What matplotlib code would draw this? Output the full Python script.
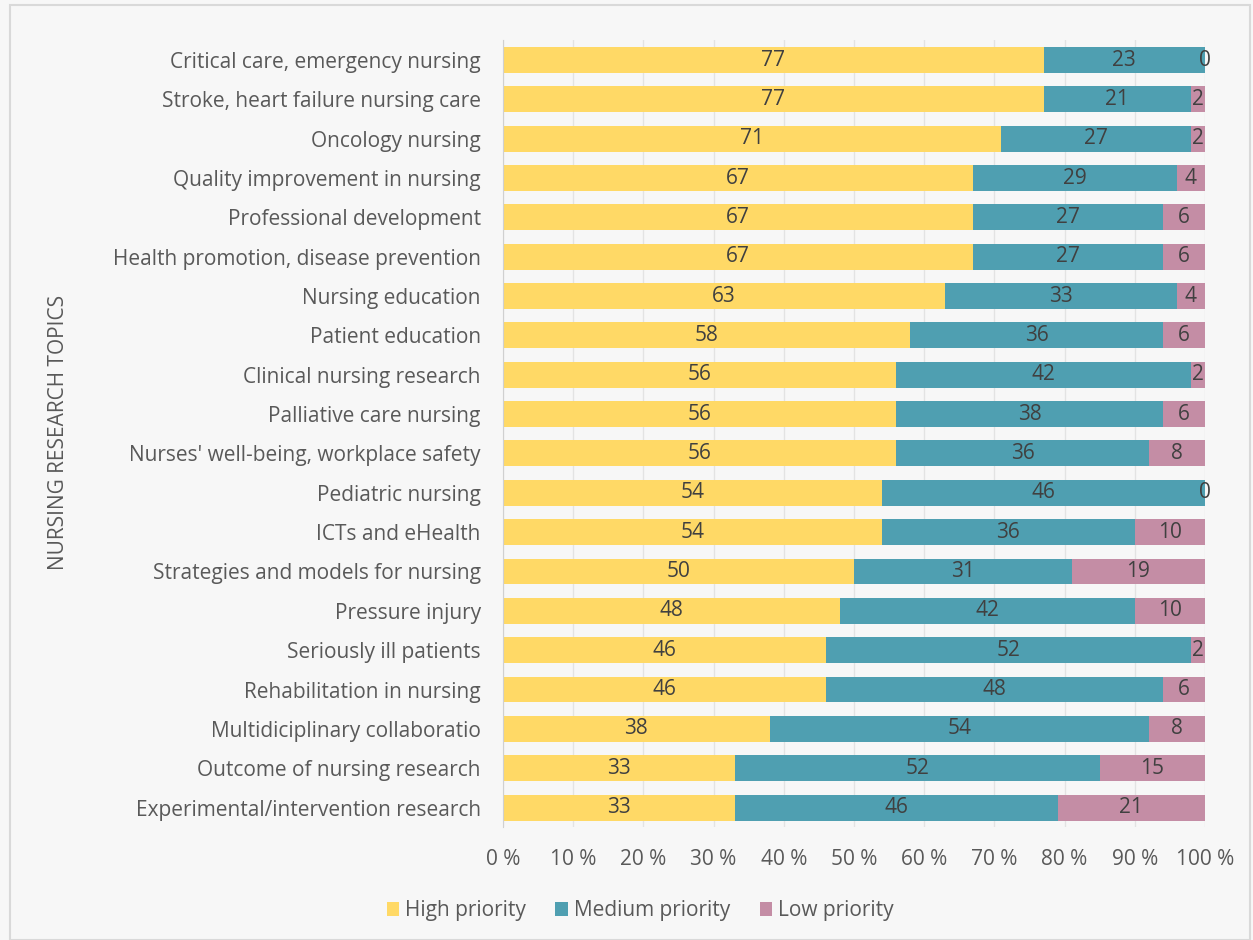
import matplotlib.pyplot as plt
import numpy as np

topics = ["Critical care, emergency nursing", "Stroke, heart failure nursing care", "Oncology nursing",
          "Quality improvement in nursing", "Professional development", "Health promotion, disease prevention",
          "Nursing education", "Patient education", "Clinical nursing research", "Palliative care nursing",
          "Nurses' well-being, workplace safety", "Pediatric nursing", "ICTs and eHealth",
          "Strategies and models for nursing", "Pressure injury", "Seriously ill patients",
          "Rehabilitation in nursing", "Multidiciplinary collaboratio", "Outcome of nursing research",
          "Experimental/intervention research"]
high = [77, 77, 71, 67, 67, 67, 63, 58, 56, 56, 56, 54, 54, 50, 48, 46, 46, 38, 33, 33]
medium = [23, 21, 27, 29, 27, 27, 33, 36, 42, 38, 36, 46, 36, 31, 42, 52, 48, 54, 52, 46]
low = [0, 2, 2, 4, 6, 6, 4, 6, 2, 6, 8, 0, 10, 19, 10, 2, 6, 8, 15, 21]
series_names = ["High priority", "Medium priority", "Low priority"]
colors = ["#FFD966", "#4F9FB1", "#C48DA5"]

txt = "#595959"
fs = 15
plt.rcParams['font.family'] = ['Open Sans', 'DejaVu Sans']

fig = plt.figure(figsize=(12.53, 9.4), dpi=100, facecolor="#F7F7F7")
ax = fig.add_axes([0.4014, 0.120, 0.5603, 0.837], facecolor="#F7F7F7")

y = np.arange(len(topics))
left = np.zeros(len(topics))
for vals, name, c in zip([high, medium, low], series_names, colors):
    vals = np.array(vals, dtype=float)
    ax.barh(y, vals, left=left, height=0.66, color=c, label=name, zorder=2)
    for yi, l, v in zip(y, left, vals):
        ax.text(l + v / 2, yi, "%d" % v, ha="center", va="center", fontsize=fs, color="#404040", zorder=3)
    left = left + vals

ax.set_ylim(len(topics) - 0.5, -0.5)
ax.set_xlim(0, 100)
ax.set_yticks(y)
ax.set_yticklabels(topics, fontsize=fs, color=txt)
ax.set_xticks(np.arange(0, 101, 10))
ax.set_xticklabels(["%d %%" % v for v in range(0, 101, 10)], fontsize=fs, color=txt)
ax.tick_params(axis="both", length=0)
ax.tick_params(axis="x", pad=16)
ax.tick_params(axis="y", pad=16)
ax.xaxis.grid(True, color="#E3E3E3", linewidth=1, zorder=0)
for s in ["top", "right", "bottom"]:
    ax.spines[s].set_visible(False)
ax.spines["left"].set_color("#D0D0D0")

fig.text(0.047, 0.54, "NURSING RESEARCH TOPICS", rotation=90, ha="center", va="center", fontsize=fs, color=txt)

fig.legend(loc="center", bbox_to_anchor=(0.511, 0.031), ncol=3, frameon=False, fontsize=fs,
           handlelength=0.6, handleheight=0.6, handletextpad=0.3, columnspacing=1.4, labelcolor=txt)

border = plt.Rectangle((0.008, 0.0), 0.99, 0.995, transform=fig.transFigure, fill=False,
                       edgecolor="#D9D9D9", linewidth=1.5)
fig.patches.append(border)

fig.savefig("out.png", dpi=100, facecolor=fig.get_facecolor())
